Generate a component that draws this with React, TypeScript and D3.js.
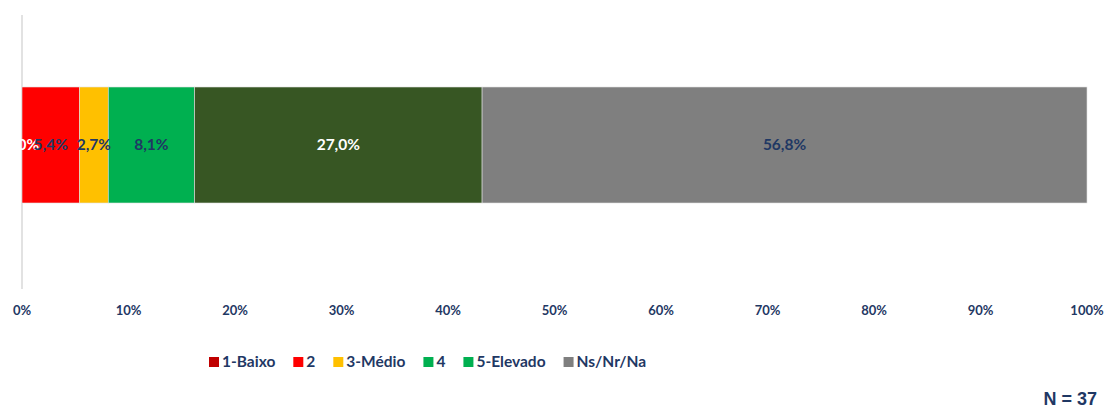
import React, { useEffect, useRef } from 'react';
import { scaleLinear, scaleBand, select, stack } from 'd3';

const categories = ['1-Baixo', '2', '3-Médio', '4', '5-Elevado', 'Ns/Nr/Na'];
const values = [0.0, 5.4, 2.7, 8.1, 27.0, 56.8];
const colors = ['#C00000', '#FF0000', '#FFC000', '#00B050', '#375623', '#7F7F7F'];
const labelColors = ['#FFFFFF', '#1F3864', '#1F3864', '#1F3864', '#FFFFFF', '#1F3864'];
const legendColors = ['#C00000', '#FF0000', '#FFC000', '#00B050', '#00B050', '#7F7F7F'];
const ticks = [0, 10, 20, 30, 40, 50, 60, 70, 80, 90, 100];
const rows = ['Q'];

const fmt = (v: number) => v.toFixed(1).replace('.', ',') + '%';

const App = () => {
  const ref = useRef<SVGSVGElement | null>(null);

  useEffect(() => {
    const svg = select(ref.current);
    svg.selectAll('*').remove();
    const width = 1107;
    const height = 408;
    const font = 'Lato, "Open Sans", sans-serif';
    const navy = '#1F3864';

    const x = scaleLinear().domain([0, 100]).range([22, 1087]);
    const y = scaleBand().domain(rows).range([87, 203]).padding(0);

    svg.attr('width', width).attr('height', height);

    const row: Record<string, number> = {};
    categories.forEach((c, i) => (row[c] = values[i]));
    const series = stack<Record<string, number>>().keys(categories)([row]);

    // axis line
    svg
      .append('line')
      .attr('x1', x(0))
      .attr('x2', x(0))
      .attr('y1', 15)
      .attr('y2', 289)
      .attr('stroke', '#D9D9D9')
      .attr('stroke-width', 1.5);

    const g = svg.append('g');
    series.forEach((s, i) => {
      const d = s[0];
      g.append('rect')
        .attr('x', x(d[0]))
        .attr('y', y('Q')!)
        .attr('width', x(d[1]) - x(d[0]))
        .attr('height', y.bandwidth())
        .attr('fill', colors[i])
        .attr('stroke', '#E0E0E0')
        .attr('stroke-width', 0.6);
    });

    series.forEach((s, i) => {
      const d = s[0];
      g.append('text')
        .attr('x', (x(d[0]) + x(d[1])) / 2)
        .attr('y', y('Q')! + y.bandwidth() / 2)
        .attr('dy', '0.35em')
        .attr('text-anchor', 'middle')
        .attr('font-family', font)
        .attr('font-weight', 'bold')
        .attr('font-size', 15.5)
        .attr('fill', labelColors[i])
        .text(fmt(values[i]));
    });

    // tick labels
    svg
      .append('g')
      .selectAll('text')
      .data(ticks)
      .enter()
      .append('text')
      .attr('x', (t) => x(t))
      .attr('y', 315)
      .attr('text-anchor', 'middle')
      .attr('font-family', font)
      .attr('font-weight', 'bold')
      .attr('font-size', 13)
      .attr('fill', navy)
      .text((t) => t + '%');

    // legend
    const lg = svg.append('g');
    let lx = 209;
    categories.forEach((c, i) => {
      lg.append('rect')
        .attr('x', lx)
        .attr('y', 357)
        .attr('width', 10)
        .attr('height', 10)
        .attr('fill', legendColors[i]);
      const t = lg
        .append('text')
        .attr('x', lx + 13)
        .attr('y', 367)
        .attr('font-family', font)
        .attr('font-weight', 'bold')
        .attr('font-size', 15.5)
        .attr('fill', navy)
        .text(c);
      const w = (t.node() as SVGTextElement).getComputedTextLength();
      lx += 13 + w + 18;
    });

    svg
      .append('text')
      .attr('x', 1097)
      .attr('y', 405)
      .attr('text-anchor', 'end')
      .attr('font-family', '"Liberation Sans", Arial, sans-serif')
      .attr('font-weight', 'bold')
      .attr('font-size', 18)
      .attr('fill', navy)
      .text('N = 37');
  }, []);

  return <svg ref={ref} style={{ position: 'absolute', left: 0, top: 0 }} />;
};

export default App;
